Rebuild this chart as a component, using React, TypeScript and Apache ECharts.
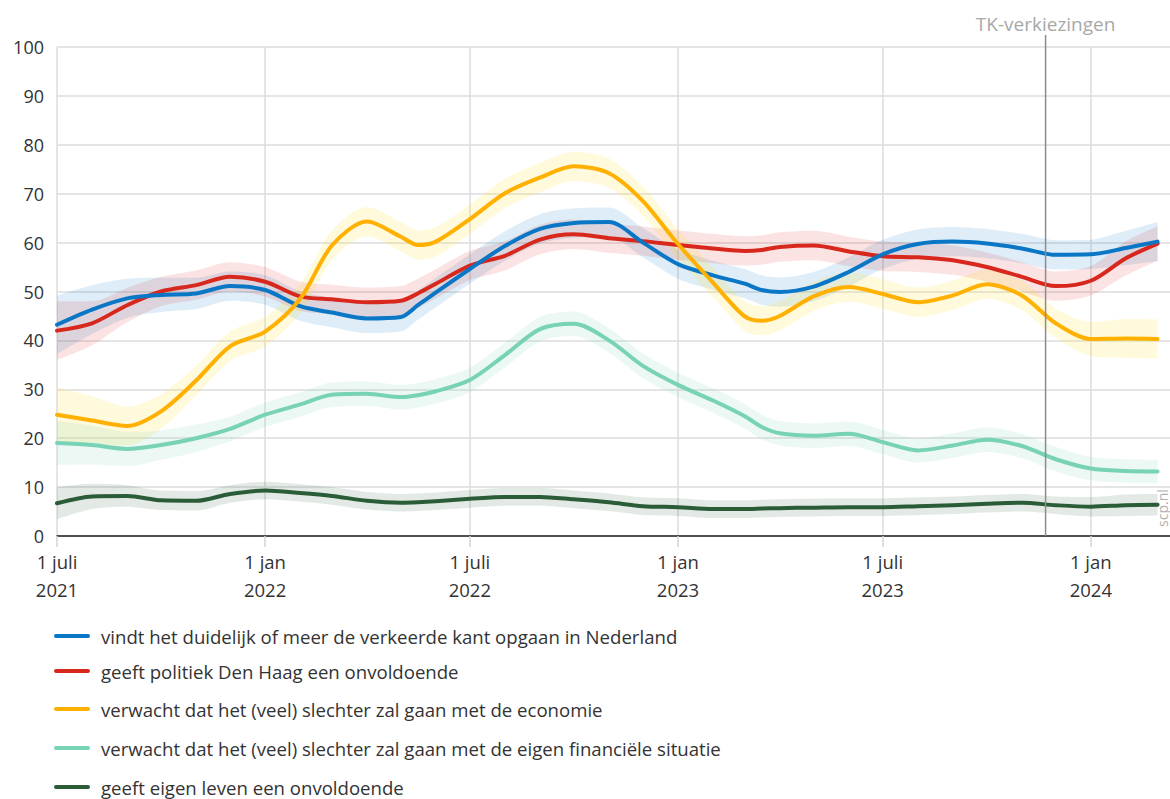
import React, { useEffect, useRef } from "react";
import * as echarts from "echarts";

// ---- data ----
const dates = [
  "2021-07-01", "2021-08-01", "2021-09-01", "2021-10-01", "2021-11-01", "2021-12-01",
  "2022-01-01", "2022-02-01", "2022-03-01", "2022-04-01", "2022-05-01", "2022-05-16",
  "2022-06-01", "2022-07-01", "2022-08-01", "2022-09-01", "2022-10-01", "2022-11-01",
  "2022-12-01", "2023-01-01", "2023-02-01", "2023-03-01", "2023-03-16", "2023-04-01",
  "2023-05-01", "2023-06-01", "2023-07-01", "2023-08-01", "2023-09-01", "2023-10-01",
  "2023-11-01", "2023-12-01", "2024-01-01", "2024-02-01", "2024-02-29",
];

const verkeerdeKant = [43.2, 46.3, 48.6, 49.3, 49.6, 51.1, 50.3, 47.0, 45.7, 44.5, 44.8, 47.2, 49.8, 54.6, 59.3, 62.8, 64.0, 64.2, 60.0, 55.6, 53.3, 51.6, 50.3, 49.9, 51.0, 54.0, 57.6, 59.7, 60.2, 59.8, 58.8, 57.5, 57.6, 58.9, 60.2];
const verkeerdeKantMarge = [6, 5, 4, 3.5, 3.2, 3, 3, 3, 3, 3, 3, 3, 3, 3, 3, 3, 3, 3, 3, 3, 3, 3, 3, 3, 3, 3, 3, 3, 3, 3, 3, 3, 3, 3.5, 4];

const denHaag = [42.0, 43.5, 47.2, 50.0, 51.3, 53.0, 52.0, 49.0, 48.4, 47.8, 48.1, 49.6, 51.6, 55.3, 57.3, 60.6, 61.7, 60.9, 60.3, 59.5, 58.8, 58.3, 58.5, 59.1, 59.4, 58.2, 57.2, 57.0, 56.4, 55.0, 53.0, 51.1, 52.2, 56.8, 59.8];
const denHaagMarge = [6, 4.5, 3.5, 3, 3, 3, 3, 3, 3, 3, 3, 3, 3, 3, 3, 3, 3, 3, 3, 3, 3, 3, 3, 3, 3, 3, 3, 3, 3, 3, 3, 3, 3, 3.5, 3.5];

const economie = [24.8, 23.6, 22.5, 25.5, 31.8, 38.8, 41.8, 48.5, 59.4, 64.3, 61.2, 59.5, 60.2, 64.8, 70.1, 73.3, 75.6, 74.2, 68.5, 59.7, 51.8, 44.9, 44.0, 45.0, 49.0, 50.9, 49.5, 47.8, 49.2, 51.5, 49.2, 43.5, 40.3, 40.4, 40.3];
const economieMarge = [5.5, 5, 4, 3.5, 3, 3, 3, 3, 3, 3, 3, 3, 3, 3, 3, 3, 3, 3, 3, 3, 3, 3, 3, 3, 3, 3, 3, 3, 3, 3, 3, 3, 3.5, 4, 4];

const financien = [19.0, 18.6, 17.8, 18.6, 20.0, 21.9, 24.8, 26.9, 28.9, 29.1, 28.4, 28.8, 29.6, 31.9, 37.0, 42.3, 43.4, 40.0, 34.8, 30.9, 27.7, 24.5, 22.3, 21.0, 20.5, 20.9, 19.2, 17.5, 18.5, 19.7, 18.4, 15.7, 13.8, 13.3, 13.2];
const financienMarge = [4.5, 4, 3.5, 3, 2.8, 2.5, 2.5, 2.5, 2.5, 2.5, 2.5, 2.5, 2.5, 2.5, 2.5, 2.5, 2.5, 2.5, 2.5, 2.5, 2.5, 2.5, 2.5, 2.5, 2.5, 2.5, 2.5, 2.5, 2.5, 2.5, 2.5, 2.5, 2.4, 2.4, 2.4];

const eigenLeven = [6.7, 8.1, 8.2, 7.3, 7.2, 8.6, 9.3, 8.8, 8.2, 7.2, 6.8, 6.9, 7.1, 7.6, 8.0, 8.0, 7.5, 6.9, 6.1, 5.9, 5.5, 5.5, 5.6, 5.7, 5.8, 5.9, 5.9, 6.1, 6.3, 6.6, 6.8, 6.3, 6.0, 6.3, 6.4];
const eigenLevenMarge = [3.3, 2.6, 2.2, 2, 2, 1.8, 1.8, 1.8, 1.8, 1.8, 1.8, 1.8, 1.8, 1.8, 1.8, 1.8, 1.8, 1.8, 1.8, 1.8, 1.8, 1.8, 1.8, 1.8, 1.8, 1.8, 1.8, 1.8, 1.8, 1.8, 1.8, 1.8, 2, 2.2, 2.2];

const seriesNames = [
  "vindt het duidelijk of meer de verkeerde kant opgaan in Nederland",
  "geeft politiek Den Haag een onvoldoende",
  "verwacht dat het (veel) slechter zal gaan met de economie",
  "verwacht dat het (veel) slechter zal gaan met de eigen financiële situatie",
  "geeft eigen leven een onvoldoende",
];

const xTickDates = ["2021-07-01", "2022-01-01", "2022-07-01", "2023-01-01", "2023-07-01", "2024-01-01"];
const xMin = "2021-07-01";
const xMax = "2024-03-11";
const yTicks = [0, 10, 20, 30, 40, 50, 60, 70, 80, 90, 100];
const tkDatum = "2023-11-22";
const tkLabel = "TK-verkiezingen";

const FONT = "'Open Sans', 'Noto Sans', sans-serif";

const lineColors = ["#0a77c6", "#d8281d", "#ffb000", "#78d2b5", "#2b5c38"];
const bandColors = [
  "rgba(0,119,200,0.13)",
  "rgba(217,41,28,0.13)",
  "rgba(255,225,40,0.17)",
  "rgba(121,210,182,0.15)",
  "rgba(42,90,55,0.13)",
];

const ts = (d: string) => +echarts.time.parse(d);

export default function App() {
  const ref = useRef<HTMLDivElement>(null);

  useEffect(() => {
    if (!ref.current) return;
    const chart = echarts.init(ref.current, null, { renderer: "svg" });

    const values = [verkeerdeKant, denHaag, economie, financien, eigenLeven];
    const marges = [verkeerdeKantMarge, denHaagMarge, economieMarge, financienMarge, eigenLevenMarge];

    const bandSeries: any[] = [];
    values.forEach((vals, k) => {
      const m = marges[k];
      bandSeries.push({
        type: "line",
        name: "band-low-" + k,
        xAxisIndex: 0,
        stack: "band" + k,
        data: dates.map((d, i) => [d, vals[i] - m[i]]),
        symbol: "none",
        smooth: 0.3,
        lineStyle: { opacity: 0, width: 0 },
        silent: true,
        z: 1,
      });
      bandSeries.push({
        type: "line",
        name: "band-" + k,
        xAxisIndex: 0,
        stack: "band" + k,
        data: dates.map((d, i) => [d, 2 * m[i]]),
        symbol: "none",
        smooth: 0.3,
        lineStyle: { opacity: 0, width: 0 },
        areaStyle: { color: bandColors[k], opacity: 1 },
        silent: true,
        z: 1,
      });
    });

    const drawOrder = [1, 0, 2, 3, 4];
    const lineSeries = drawOrder.map((k) => ({
      type: "line",
      name: seriesNames[k],
      xAxisIndex: 0,
      data: dates.map((d, i) => [d, values[k][i]]),
      symbol: "none",
      smooth: 0.3,
      lineStyle: { color: lineColors[k], width: 4, cap: "round", join: "round" },
      itemStyle: { color: lineColors[k] },
      z: 3,
    }));

    const tickTs = xTickDates.map(ts);

    chart.setOption({
      animation: false,
      textStyle: { fontFamily: FONT },
      grid: { left: 57, right: 0, top: 47, bottom: 263, containLabel: false },
      xAxis: [
        {
          // data axis (time), hidden
          type: "time",
          position: "top",
          min: xMin,
          max: xMax,
          show: false,
          splitLine: { show: false },
        },
        {
          // visible axis: ticks at 1 juli / 1 jan
          type: "value",
          position: "bottom",
          min: ts(xMin),
          max: ts(xMax),
          axisLine: { show: true, onZero: false, lineStyle: { color: "#1e1e1e", width: 1.5 } },
          axisTick: {
            show: true,
            customValues: tickTs,
            length: 11,
            lineStyle: { color: "#d4d4d4", width: 1.5 },
          },
          axisLabel: {
            customValues: tickTs,
            fontSize: 18.5,
            color: "#333",
            fontFamily: FONT,
            lineHeight: 28,
            margin: 11,
            formatter: (v: number) => {
              const d = new Date(v);
              return (d.getMonth() === 0 ? "1 jan" : "1 juli") + "\n" + d.getFullYear();
            },
          },
          splitLine: { show: true, lineStyle: { color: "#dcdcdc", width: 1.5 } },
        },
      ],
      yAxis: {
        type: "value",
        min: yTicks[0],
        max: yTicks[yTicks.length - 1],
        interval: 10,
        axisLine: { show: false },
        axisTick: { show: false },
        axisLabel: { fontSize: 18, color: "#333", fontFamily: FONT, margin: 13 },
        splitLine: { show: true, lineStyle: { color: "#dcdcdc", width: 1.5 } },
      },
      series: [...bandSeries, ...lineSeries],
    });

    const xTk = chart.convertToPixel({ xAxisIndex: 0 }, ts(tkDatum)) as number;
    const yTop = chart.convertToPixel({ yAxisIndex: 0 }, 100) as number;
    const yBottom = chart.convertToPixel({ yAxisIndex: 0 }, 0) as number;

    const legendY = [636, 671, 709, 748, 787];
    const legendEls: any[] = [];
    seriesNames.forEach((name, k) => {
      legendEls.push({
        type: "line",
        shape: { x1: 56, y1: legendY[k], x2: 88, y2: legendY[k] },
        style: { stroke: lineColors[k], lineWidth: 4, lineCap: "round" },
      });
      legendEls.push({
        type: "text",
        x: 101,
        y: legendY[k],
        style: {
          text: name,
          fontSize: 18.6,
          fontFamily: FONT,
          fill: "#333",
          verticalAlign: "middle",
          align: "left",
        },
      });
    });

    chart.setOption({
      graphic: [
        {
          type: "line",
          shape: { x1: xTk, y1: yTop - 12, x2: xTk, y2: yBottom },
          style: { stroke: "#8c8c8c", lineWidth: 1.5 },
          z: 10,
        },
        {
          type: "text",
          x: xTk,
          y: yTop - 23,
          style: {
            text: tkLabel,
            fontSize: 19,
            fontFamily: FONT,
            fill: "#a8a8a8",
            align: "center",
            verticalAlign: "middle",
          },
        },
        {
          type: "text",
          x: 1162,
          y: 508,
          rotation: Math.PI / 2,
          style: {
            text: "scp.nl",
            fontSize: 14,
            fontFamily: FONT,
            fill: "#b0b0b0",
            align: "center",
            verticalAlign: "middle",
          },
        },
        ...legendEls,
      ],
    });

    return () => chart.dispose();
  }, []);

  return (
    <div
      ref={ref}
      style={{ position: "absolute", left: 0, top: 0, width: 1170, height: 799 }}
    />
  );
}
